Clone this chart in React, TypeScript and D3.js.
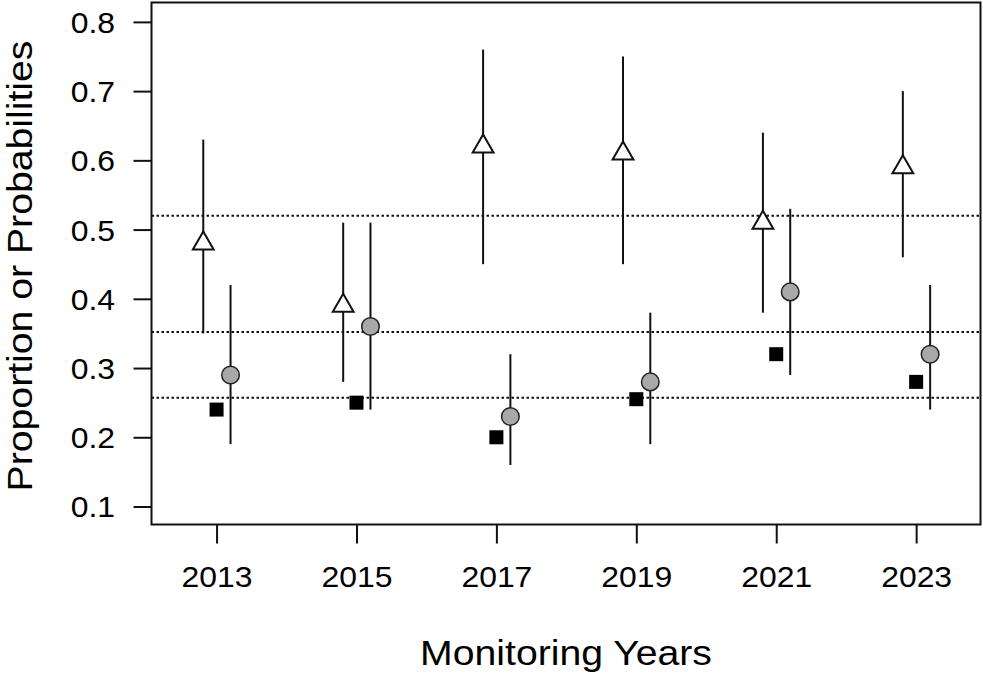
import React, { useEffect, useRef } from 'react';
import * as d3 from 'd3';

// Survey years and estimates per year
const years = [2013, 2015, 2017, 2019, 2021, 2023];

// Open triangles: estimate with lower / upper interval
const triMean = [0.48, 0.39, 0.62, 0.61, 0.51, 0.59];
const triLow = [0.35, 0.28, 0.45, 0.45, 0.38, 0.46];
const triHigh = [0.63, 0.51, 0.76, 0.75, 0.64, 0.70];

// Grey circles: estimate with lower / upper interval
const circMean = [0.29, 0.36, 0.23, 0.28, 0.41, 0.32];
const circLow = [0.19, 0.24, 0.16, 0.19, 0.29, 0.24];
const circHigh = [0.42, 0.51, 0.32, 0.38, 0.53, 0.42];

// Black squares: observed proportion
const squares = [0.24, 0.25, 0.20, 0.255, 0.32, 0.28];

// Horizontal dotted reference levels
const refLines = [0.52, 0.352, 0.257];

const yTicks = [0.1, 0.2, 0.3, 0.4, 0.5, 0.6, 0.7, 0.8];

const W = 983;
const H = 677;
const FONT = "'Liberation Sans', Arial, sans-serif";

const App: React.FC = () => {
  const ref = useRef<SVGSVGElement>(null);

  useEffect(() => {
    if (!ref.current) return;
    const svg = d3.select(ref.current);
    svg.selectAll('*').remove();

    const left = 151.5, right = 980.5, top = 2.5, bottom = 524.5;

    const x = d3.scaleLinear().domain([2012.07, 2023.92]).range([left, right]);
    const y = d3.scaleLinear().domain([0.074, 0.828]).range([bottom, top]);

    const triOff = -0.19;
    const circOff = 0.2;

    // reference lines
    svg.append('g')
      .selectAll('line')
      .data(refLines)
      .enter().append('line')
      .attr('x1', left).attr('x2', right)
      .attr('y1', d => y(d)).attr('y2', d => y(d))
      .attr('stroke', '#111')
      .attr('stroke-width', 2)
      .attr('stroke-dasharray', '2.5 2.5');

    // error bars
    const bars = svg.append('g').attr('stroke', '#111').attr('stroke-width', 2);
    years.forEach((yr, i) => {
      bars.append('line')
        .attr('x1', x(yr + triOff)).attr('x2', x(yr + triOff))
        .attr('y1', y(triLow[i])).attr('y2', y(triHigh[i]));
      bars.append('line')
        .attr('x1', x(yr + circOff)).attr('x2', x(yr + circOff))
        .attr('y1', y(circLow[i])).attr('y2', y(circHigh[i]));
    });

    // triangles (centroid on the value)
    const r = 12, hw = 10.4;
    svg.append('g')
      .selectAll('path')
      .data(years)
      .enter().append('path')
      .attr('d', (d, i) => {
        const cx = x(d + triOff), cy = y(triMean[i]);
        return `M${cx},${cy - r}L${cx + hw},${cy + r / 2}L${cx - hw},${cy + r / 2}Z`;
      })
      .attr('fill', '#fff')
      .attr('stroke', '#111')
      .attr('stroke-width', 2)
      .attr('stroke-linejoin', 'miter');

    // grey circles
    svg.append('g')
      .selectAll('circle')
      .data(years)
      .enter().append('circle')
      .attr('cx', d => x(d + circOff))
      .attr('cy', (_, i) => y(circMean[i]))
      .attr('r', 8.8)
      .attr('fill', '#a8a8a8')
      .attr('stroke', '#222')
      .attr('stroke-width', 1.5);

    // squares
    const s = 14;
    svg.append('g')
      .selectAll('rect')
      .data(years)
      .enter().append('rect')
      .attr('x', d => x(d) - s / 2)
      .attr('y', (_, i) => y(squares[i]) - s / 2)
      .attr('width', s)
      .attr('height', s)
      .attr('fill', '#000');

    // box
    svg.append('rect')
      .attr('x', left).attr('y', top)
      .attr('width', right - left).attr('height', bottom - top)
      .attr('fill', 'none')
      .attr('stroke', '#111')
      .attr('stroke-width', 2);

    // x axis
    const xAxis = svg.append('g')
      .attr('transform', `translate(0,${bottom})`)
      .call(d3.axisBottom(x).tickValues(years).tickSize(19).tickSizeOuter(0).tickFormat(d => String(d)));
    xAxis.select('.domain').remove();
    xAxis.selectAll('line').attr('stroke', '#111').attr('stroke-width', 2);
    xAxis.selectAll('text')
      .attr('y', 0).attr('dy', 0)
      .attr('transform', 'translate(0,62.5) scale(1.1,1)')
      .attr('fill', '#000')
      .style('font-family', FONT)
      .style('font-size', '29px');

    // y axis
    const yAxis = svg.append('g')
      .attr('transform', `translate(${left},0)`)
      .call(d3.axisLeft(y).tickValues(yTicks).tickSize(18).tickSizeOuter(0).tickFormat(d3.format('.1f')));
    yAxis.select('.domain').remove();
    yAxis.selectAll('line').attr('stroke', '#111').attr('stroke-width', 2);
    yAxis.selectAll('text')
      .attr('x', 0).attr('dy', '0.36em')
      .attr('transform', 'translate(-36.5,0) scale(1.1,1)')
      .attr('text-anchor', 'end')
      .attr('fill', '#000')
      .style('font-family', FONT)
      .style('font-size', '29px');

    // axis titles
    svg.append('text')
      .attr('transform', `translate(${(left + right) / 2},665) scale(1.12,1)`)
      .attr('text-anchor', 'middle')
      .style('font-family', FONT)
      .style('font-size', '35px')
      .text('Monitoring Years');

    svg.append('text')
      .attr('transform', 'translate(32,266) rotate(-90) scale(1.12,1)')
      .attr('text-anchor', 'middle')
      .style('font-family', FONT)
      .style('font-size', '35px')
      .text('Proportion or Probabilities');
  }, []);

  return (
    <svg
      ref={ref}
      width={W}
      height={H}
      style={{ position: 'absolute', left: 0, top: 0, background: '#fff', display: 'block' }}
    />
  );
};

export default App;
